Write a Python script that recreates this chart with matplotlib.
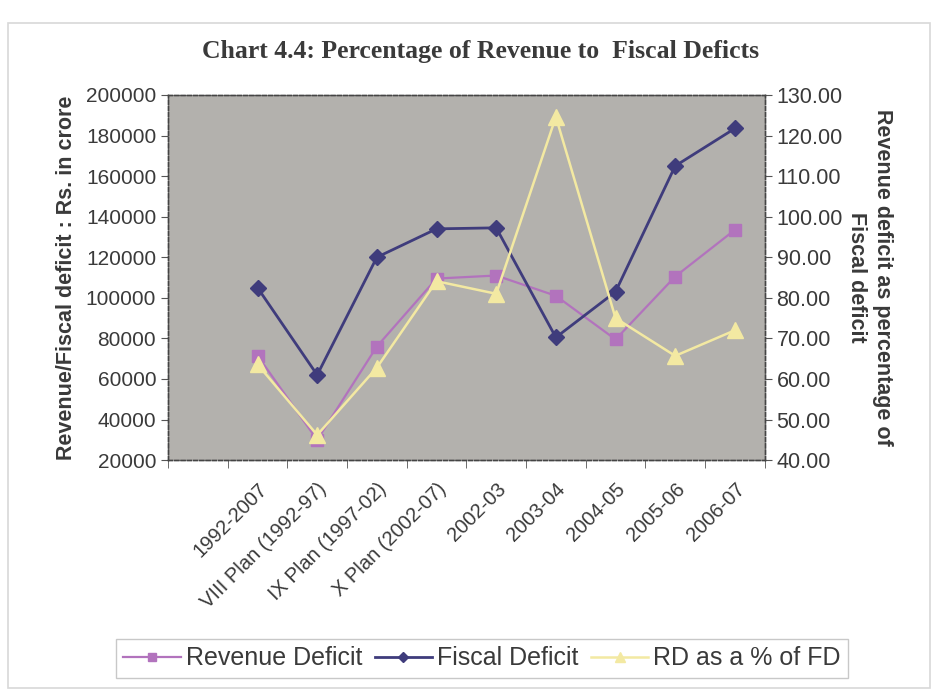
import numpy as np
import matplotlib.pyplot as plt
from matplotlib.patches import Rectangle
from matplotlib.ticker import FixedLocator, FuncFormatter

# plan periods / years (first category slot is left empty on the axis)
periods = ['1992-2007', 'VIII Plan (1992-97)', 'IX Plan (1997-02)', 'X Plan (2002-07)',
           '2002-03', '2003-04', '2004-05', '2005-06', '2006-07']

# Rs. in crore
revenue_deficit = [71500, 30000, 76000, 109500, 111000, 101000, 79500, 110500, 133500]
fiscal_deficit = [105000, 62000, 120000, 134000, 134500, 80500, 103000, 165000, 183500]
# revenue deficit as % of fiscal deficit
rd_pct_of_fd = [63.6, 46.2, 62.8, 84.1, 81.0, 124.6, 75.0, 65.7, 72.0]

plt.rcParams['font.family'] = ['Liberation Sans', 'DejaVu Sans']

rev_col = '#b273bd'
fis_col = '#3f3c7c'
pct_col = '#f3e9a2'
text_col = '#3a3a3a'

fig = plt.figure(figsize=(9.36, 6.93), dpi=100)
fig.patch.set_facecolor('white')
fig.patches.append(Rectangle((0.009, 0.007), 0.985, 0.96, transform=fig.transFigure,
                             fill=False, edgecolor='#d8d8d8', linewidth=1.2))

ax = fig.add_axes([0.1795, 0.336, 0.6375, 0.527])
ax.set_facecolor('#b3b1ad')
ax2 = ax.twinx()

x = np.arange(1, len(periods) + 1)

ax.plot(x, revenue_deficit, color=rev_col, lw=1.6, marker='s', ms=9,
        mfc=rev_col, mec=rev_col, label='Revenue Deficit', zorder=3)
ax.plot(x, fiscal_deficit, color=fis_col, lw=2.0, marker='D', ms=8.5,
        mfc=fis_col, mec=fis_col, label='Fiscal Deficit', zorder=3)
ax2.plot(x, rd_pct_of_fd, color=pct_col, lw=1.8, marker='^', ms=11,
         mfc=pct_col, mec=pct_col, label='RD as a % of FD', zorder=3)

ax.set_xlim(-0.5, len(periods) + 0.5)
ax.set_ylim(20000, 200000)
ax.set_yticks(np.arange(20000, 200001, 20000))
ax2.set_ylim(40, 130)
ax2.set_yticks(np.arange(40, 131, 10))
ax2.yaxis.set_major_formatter(FuncFormatter(lambda v, p: f'{v:.2f}'))

ax.set_xticks(x)
ax.set_xticklabels(periods, rotation=45, ha='right', rotation_mode='anchor',
                   fontsize=14.5, color=text_col)
ax.xaxis.set_minor_locator(FixedLocator(np.arange(-0.5, len(periods) + 1, 1.0)))
ax.tick_params(axis='x', which='major', length=0, pad=14)
ax.tick_params(axis='x', which='minor', length=6, color='#555555')
ax.tick_params(axis='y', labelsize=15, colors=text_col, length=5, color='#555555')
ax2.tick_params(axis='y', labelsize=15.5, colors=text_col, length=5, color='#555555')

for a in (ax, ax2):
    for s in a.spines.values():
        s.set_color('#444444')
        s.set_linestyle((0, (3, 1.5)))
        s.set_linewidth(1.0)

ax.set_ylabel('Revenue/Fiscal deficit : Rs. in crore', fontsize=15.5,
              fontweight='bold', color=text_col, labelpad=6)
ax2.set_ylabel('Revenue deficit as percentage of\nFiscal deficit', fontsize=15.5,
               fontweight='bold', color=text_col, rotation=-90, labelpad=36,
               linespacing=1.3)

fig.text(0.513, 0.925, 'Chart 4.4: Percentage of Revenue to  Fiscal Deficts',
         ha='center', va='center', fontsize=18.5, fontweight='bold',
         family=['Liberation Serif', 'DejaVu Serif'], color=text_col)

h1, l1 = ax.get_legend_handles_labels()
h2, l2 = ax2.get_legend_handles_labels()
leg = fig.legend(h1 + h2, l1 + l2, loc='center', bbox_to_anchor=(0.515, 0.05),
                 ncol=3, fontsize=18, frameon=True, fancybox=False,
                 handlelength=2.3, handletextpad=0.2, columnspacing=0.5,
                 borderpad=0.3, markerscale=0.65)
leg.get_frame().set_edgecolor('#bbbbbb')
leg.get_frame().set_linewidth(1.0)
for t in leg.get_texts():
    t.set_color(text_col)

fig.savefig('out.png', dpi=100)
